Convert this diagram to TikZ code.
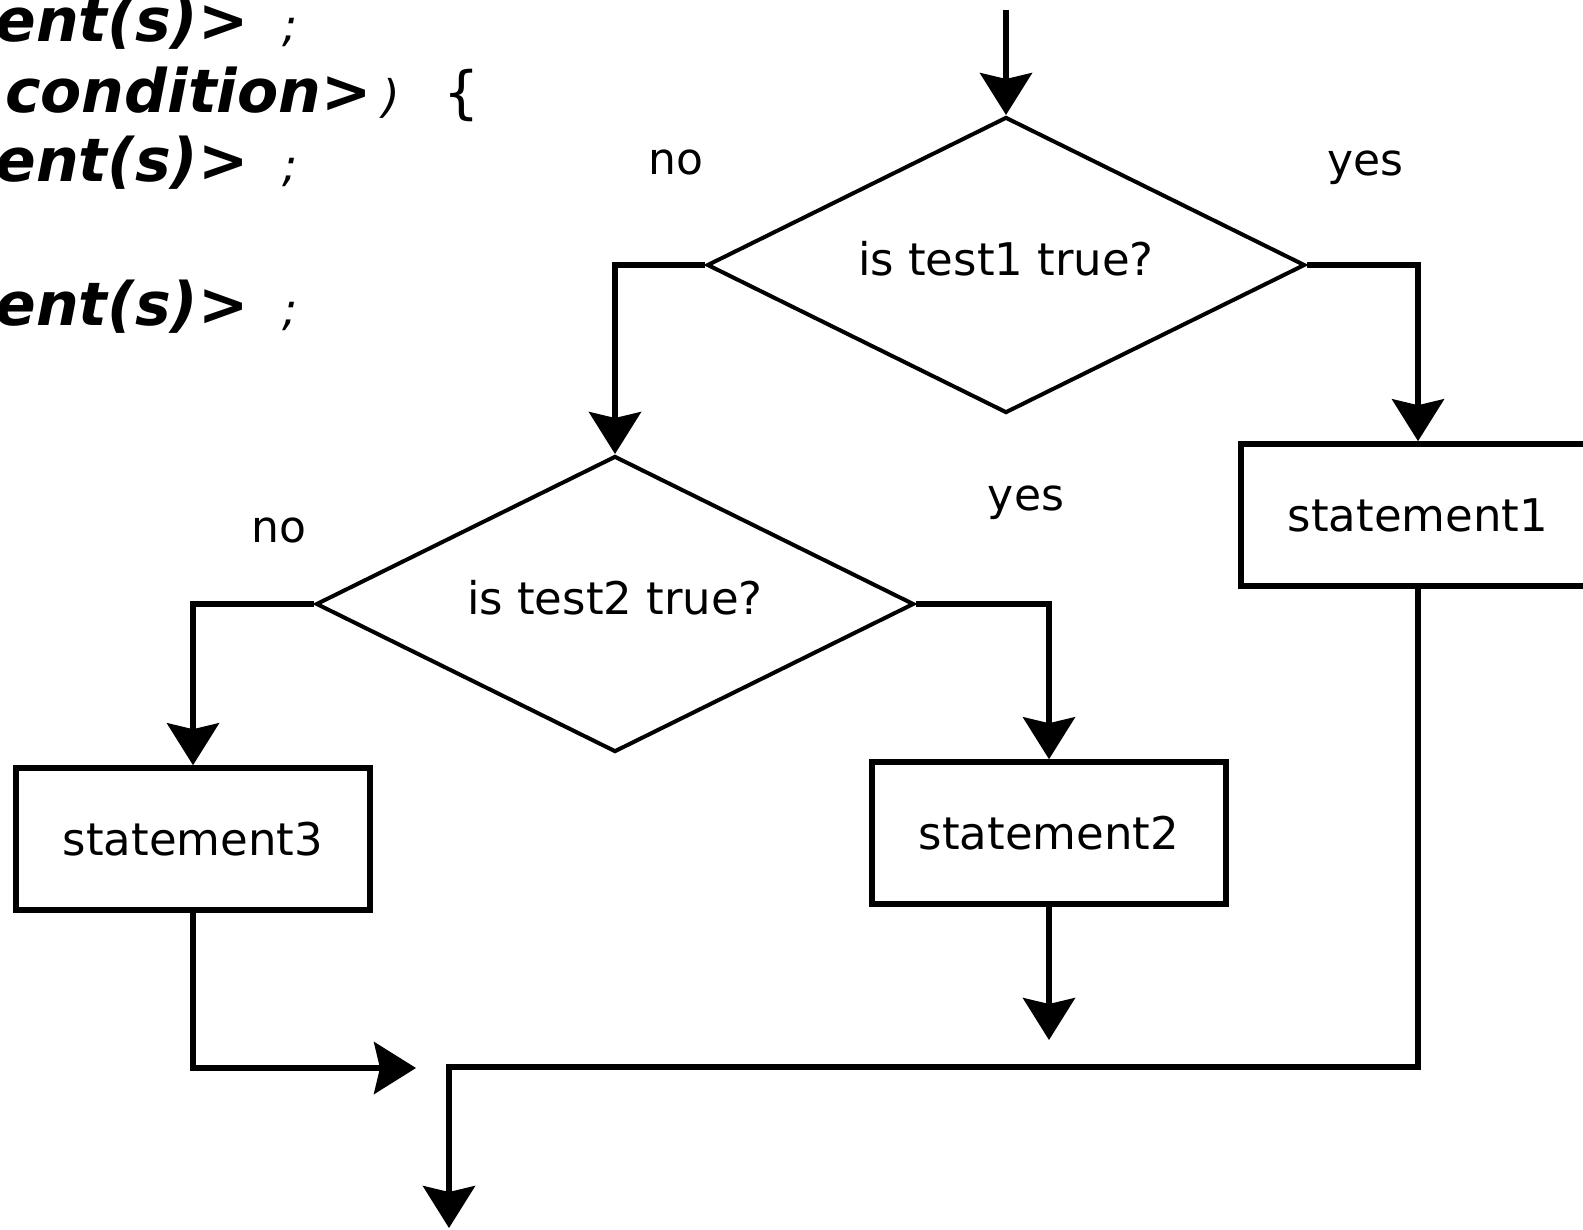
\documentclass[tikz,border=0pt]{standalone}
\usepackage{fontspec}
\setmainfont{DejaVu Sans}
\newfontfamily\codefont{DejaVu Sans}[ItalicFont={DejaVu Sans Oblique},BoldFont={DejaVu Sans Bold},BoldItalicFont={DejaVu Sans Bold Oblique}]
\usetikzlibrary{shapes.geometric,arrows.meta}

\tikzset{every picture/.style={line width=2.5pt}}

\begin{document}
\begin{tikzpicture}[x=0.5pt,y=0.5pt,yscale=-1,xscale=1,
  flow/.style={line width=2.6pt,-{Stealth[length=21pt,width=26pt,inset=3pt]}},
  test/.style={diamond,draw,shape aspect=2,line width=2pt,minimum width=299pt,minimum height=148pt,inner sep=0pt,text depth=7pt,font=\fontsize{22.5}{27}\selectfont},
  stmt/.style={rectangle,draw,line width=2.8pt,minimum width=177pt,minimum height=71pt,font=\fontsize{22.5}{27}\selectfont},
  answer/.style={inner sep=0pt,font=\fontsize{22}{26}\selectfont},
  code/.style={anchor=base east,inner sep=0pt,font=\codefont\fontsize{30}{36}\selectfont\bfseries\itshape},
  punct/.style={anchor=base,inner sep=0pt,font=\codefont\fontsize{22.5}{27}\selectfont}]
%set diagram size: 1583 x 1230
\useasboundingbox (0,0) rectangle (1583,1230);

% Code lines (left edge runs off the page)
\node [code] (code1) at (251,42) {ent(s)>};
\node [punct] (semi1) at (290,42) {\itshape ;};
\node [code] (code2) at (374,113) {<condition>};
\node [punct] (paren2) at (391,113) {\itshape )};
\node [punct,font=\codefont\fontsize{28.5}{34}\selectfont] (brace2) at (462,113) {\{};
\node [code] (code3) at (251,182) {ent(s)>};
\node [punct] (semi3) at (290,182) {\itshape ;};
\node [code] (code4) at (251,325) {ent(s)>};
\node [punct] (semi4) at (290,325) {\itshape ;};

% Tests
\node [test] (test1) at (1006,265) {is test1 true?};
\node [test] (test2) at (615,604) {is test2 true?};

% Statements
\node [stmt] (stmt1) at (1418,515) {statement1};
\node [stmt] (stmt2) at (1049,833) {statement2};
\node [stmt] (stmt3) at (193,839) {statement3};

% Branch labels
\node [answer] (no1) at (676,162) {no};
\node [answer] (yes1) at (1365,168) {yes};
\node [answer] (no2) at (279,530) {no};
\node [answer] (yes2) at (1026,503) {yes};

% Free ends
\coordinate (entry) at (1006,10);
\coordinate (out2) at (1049,1040);
\coordinate (join3) at (416,1068);
\coordinate (bend) at (449,1067);
\coordinate (exit) at (449,1228);

% Connectors
\draw [flow] (entry) -- (test1.north);
\draw [flow] (test1.west) -| (test2.north);
\draw [flow] (test1.east) -| (stmt1.north);
\draw [flow] (test2.west) -| (stmt3.north);
\draw [flow] (test2.east) -| (stmt2.north);
\draw [flow] (stmt2.south) -- (out2);
\draw [flow] (stmt3.south) |- (join3);
\draw [flow] (stmt1.south) |- (bend) -- (exit);

\end{tikzpicture}
\end{document}
